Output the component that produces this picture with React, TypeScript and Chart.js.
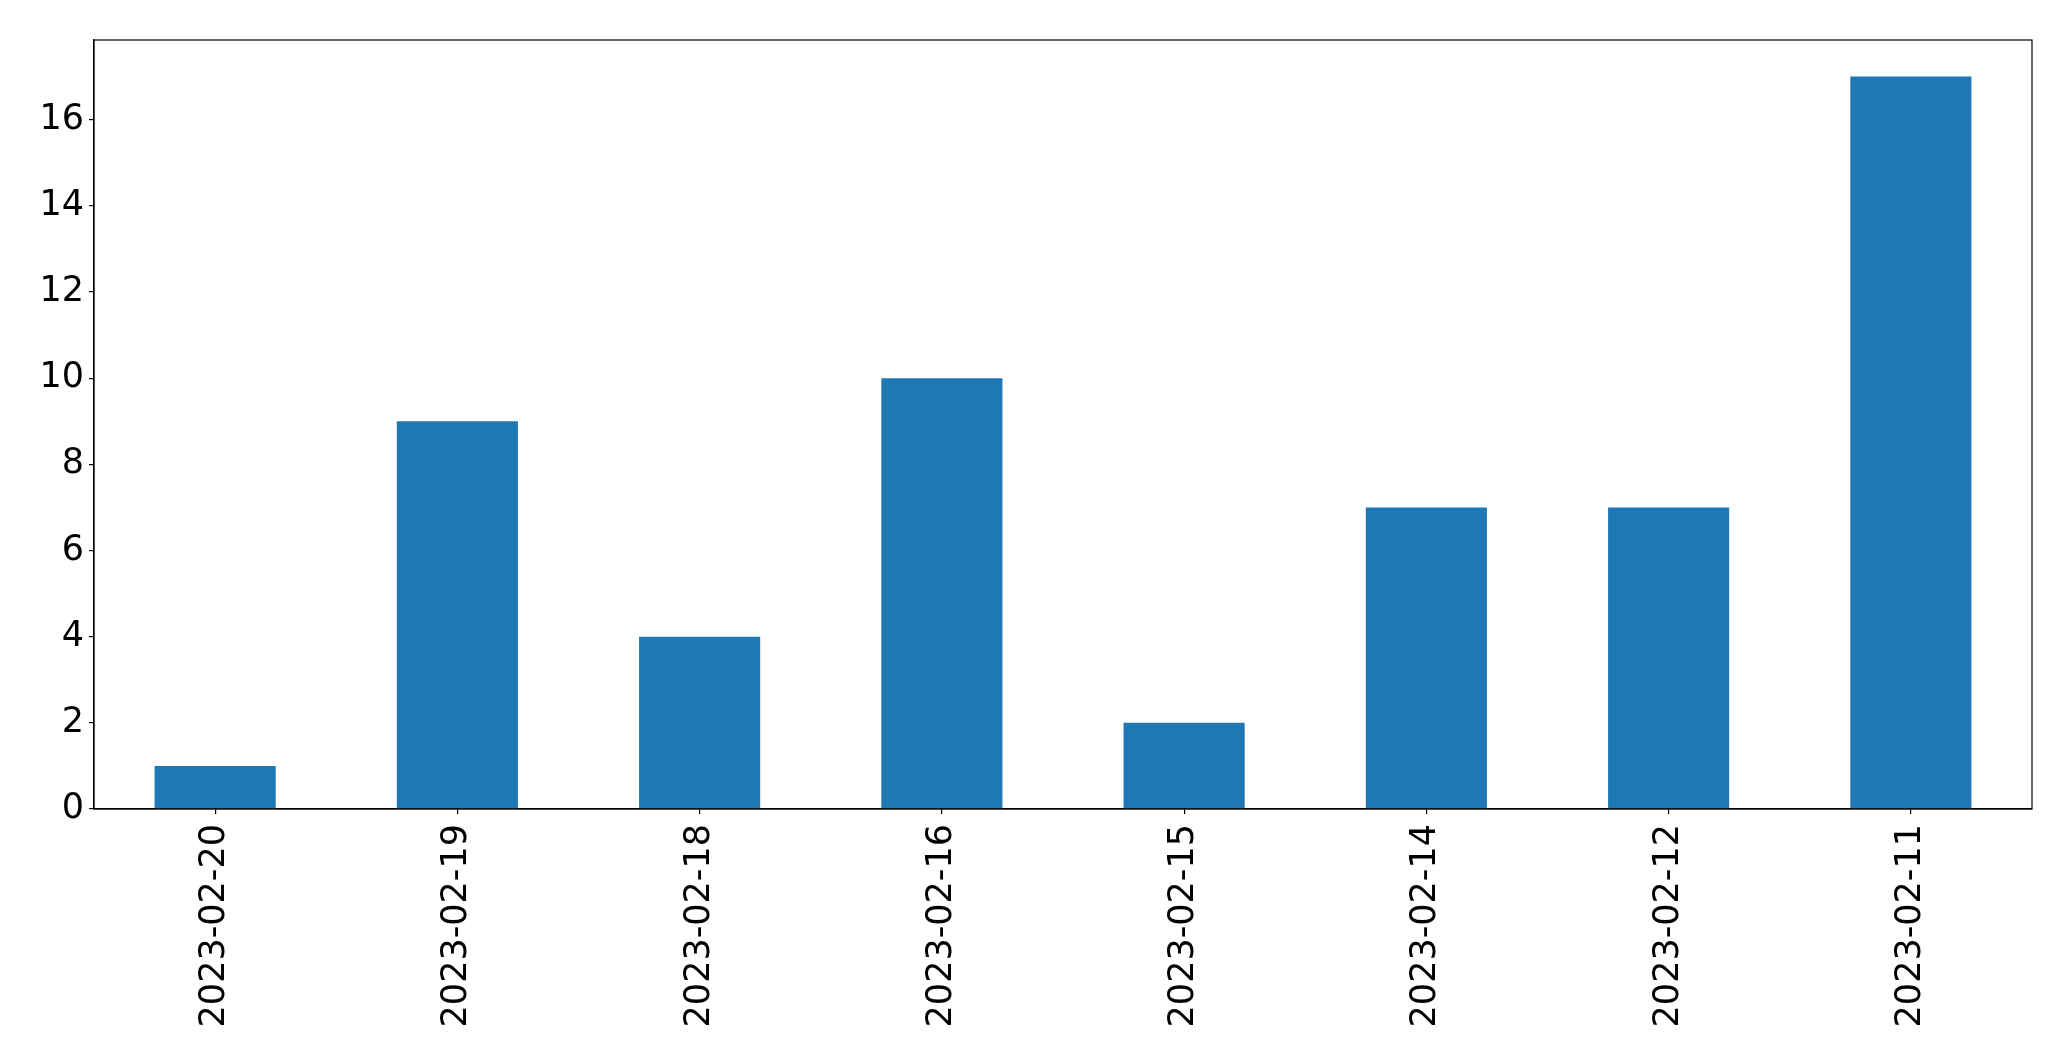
import React, { useEffect, useRef } from "react";
import { Chart, registerables } from "chart.js";

Chart.register(...registerables);

const categories: string[] = [
  "2023-02-20",
  "2023-02-19",
  "2023-02-18",
  "2023-02-16",
  "2023-02-15",
  "2023-02-14",
  "2023-02-12",
  "2023-02-11",
];
const counts: number[] = [1, 9, 4, 10, 2, 7, 7, 17];
const yTicks: number[] = [0, 2, 4, 6, 8, 10, 12, 14, 16];
const yMax = 17.85;

const W = 2071;
const H = 1061;

const framePlugin = {
  id: "frame",
  afterDraw(chart: any) {
    const { ctx, chartArea } = chart;
    ctx.save();
    ctx.strokeStyle = "#000";
    ctx.lineWidth = 1.2;
    ctx.strokeRect(chartArea.left, chartArea.top, chartArea.right - chartArea.left, chartArea.bottom - chartArea.top);
    ctx.restore();
  },
};

export default function App() {
  const ref = useRef<HTMLCanvasElement | null>(null);
  useEffect(() => {
    document.body.style.margin = "0";
    const font = { family: "'DejaVu Sans'", size: 35 };
    const chart = new Chart(ref.current as HTMLCanvasElement, {
      type: "bar",
      data: {
        labels: categories,
        datasets: [
          {
            data: counts,
            backgroundColor: "#1f77b4",
            borderWidth: 0,
            categoryPercentage: 1,
            barPercentage: 0.5,
          },
        ],
      },
      options: {
        animation: false,
        responsive: false,
        maintainAspectRatio: false,
        devicePixelRatio: 1,
        layout: { padding: { left: 0, right: 39, top: 40, bottom: 0 } },
        plugins: { legend: { display: false }, tooltip: { enabled: false } },
        scales: {
          x: {
            type: "category",
            offset: true,
            grid: { display: true, offset: false, drawOnChartArea: false, drawTicks: true, tickLength: 5, color: "#000", lineWidth: 1.2 },
            border: { display: true, color: "#000", width: 1.2 },
            ticks: { color: "#000", font, minRotation: 90, maxRotation: 90, padding: 10, autoSkip: false },
            afterFit: (s: any) => {
              s.height = 252;
            },
          },
          y: {
            type: "linear",
            min: 0,
            max: yMax,
            grid: { display: true, drawOnChartArea: false, drawTicks: true, tickLength: 5, color: "#000", lineWidth: 1.2 },
            border: { display: true, color: "#000", width: 1.2 },
            ticks: { color: "#000", font, padding: 5 },
            afterBuildTicks: (s: any) => {
              s.ticks = yTicks.map((v) => ({ value: v }));
            },
            afterFit: (s: any) => {
              s.width = 94;
            },
          },
        },
      },
      plugins: [framePlugin],
    });
    return () => chart.destroy();
  }, []);
  return (
    <div style={{ position: "absolute", left: 0, top: 0, width: W, height: H, background: "#fff" }}>
      <canvas ref={ref} width={W} height={H} style={{ width: W, height: H, display: "block" }} />
    </div>
  );
}
